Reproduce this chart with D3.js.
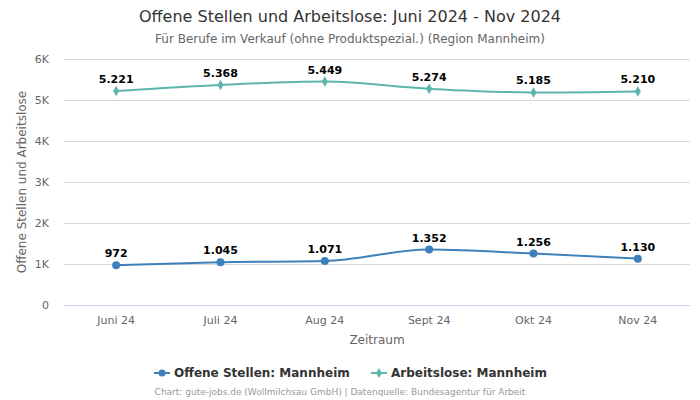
<!DOCTYPE html>
<html>
<head>
<meta charset="utf-8">
<script src="https://cdn.jsdelivr.net/npm/d3@7"></script>
<style>
  body { margin: 0; background: #fff; }
  svg { font-family: "DejaVu Sans", sans-serif; }
</style>
</head>
<body>
<svg id="chart" width="700" height="400"></svg>
<script>
const months = ["Juni 24", "Juli 24", "Aug 24", "Sept 24", "Okt 24", "Nov 24"];
const offeneStellen = [972, 1045, 1071, 1352, 1256, 1130];
const arbeitslose = [5221, 5368, 5449, 5274, 5185, 5210];
const yTicks = [0, 1000, 2000, 3000, 4000, 5000, 6000];
const yTickLabels = ["0", "1K", "2K", "3K", "4K", "5K", "6K"];

const svg = d3.select("#chart");
const plotLeft = 64, plotRight = 690, plotTop = 59, plotBottom = 305;

const x = d3.scaleBand().domain(months).range([plotLeft, plotRight]);
const y = d3.scaleLinear().domain([0, 6000]).range([plotBottom, plotTop]);
const fmt = d3.formatLocale({ decimal: ",", thousands: ".", grouping: [3], currency: ["", "€"] }).format(",d");

// title
svg.append("text").attr("x", 350).attr("y", 22).attr("text-anchor", "middle")
  .style("font-size", "16px").attr("fill", "#333")
  .text("Offene Stellen und Arbeitslose: Juni 2024 - Nov 2024");
svg.append("text").attr("x", 350).attr("y", 43).attr("text-anchor", "middle")
  .style("font-size", "12px").attr("fill", "#666")
  .text("Für Berufe im Verkauf (ohne Produktspezial.) (Region Mannheim)");

// grid
svg.append("g").selectAll("line").data(yTicks).enter().append("line")
  .attr("x1", plotLeft).attr("x2", plotRight)
  .attr("y1", d => y(d) + 0.5).attr("y2", d => y(d) + 0.5)
  .attr("stroke", d => d === 0 ? "#ccd6eb" : "#d8d8d8").attr("stroke-width", 1);

svg.append("g").selectAll("text").data(yTicks).enter().append("text")
  .attr("x", 49).attr("y", d => y(d) + 4).attr("text-anchor", "end")
  .style("font-size", "11px").attr("fill", "#666")
  .text((d, i) => yTickLabels[i]);

svg.append("g").selectAll("text").data(months).enter().append("text")
  .attr("x", d => x(d) + x.bandwidth() / 2).attr("y", 324).attr("text-anchor", "middle")
  .style("font-size", "11px").attr("fill", "#666")
  .text(d => d);

svg.append("text").attr("x", (plotLeft + plotRight) / 2).attr("y", 344).attr("text-anchor", "middle")
  .style("font-size", "12px").attr("fill", "#666").text("Zeitraum");

svg.append("text").attr("transform", "translate(26," + ((plotTop + plotBottom) / 2) + ") rotate(-90)")
  .attr("text-anchor", "middle").style("font-size", "12px").attr("fill", "#666")
  .text("Offene Stellen und Arbeitslose");

const series = [
  { name: "Offene Stellen: Mannheim", values: offeneStellen, color: "#3d80bb", marker: "circle" },
  { name: "Arbeitslose: Mannheim", values: arbeitslose, color: "#5cb5ab", marker: "diamond" }
];

const line = d3.line()
  .x((d, i) => x(months[i]) + x.bandwidth() / 2)
  .y(d => y(d))
  .curve(d3.curveMonotoneX);

series.forEach(s => {
  const g = svg.append("g");
  g.append("path").attr("d", line(s.values)).attr("fill", "none")
    .attr("stroke", s.color).attr("stroke-width", 2);
  const sym = s.marker === "circle" ? d3.symbolCircle : d3.symbolDiamond;
  const size = s.marker === "circle" ? 50 : 32;
  g.selectAll("path.m").data(s.values).enter().append("path").attr("class", "m")
    .attr("d", d3.symbol().type(sym).size(size))
    .attr("transform", (d, i) => `translate(${x(months[i]) + x.bandwidth() / 2},${y(d)})`)
    .attr("fill", s.color);
  g.selectAll("text").data(s.values).enter().append("text")
    .attr("x", (d, i) => x(months[i]) + x.bandwidth() / 2)
    .attr("y", d => y(d) - 8)
    .attr("text-anchor", "middle")
    .style("font-size", "11px").style("font-weight", "bold").attr("fill", "#000")
    .text(d => fmt(d));
});

// legend
const legend = svg.append("g");
const items = [
  { s: series[0], x: 154 },
  { s: series[1], x: 371 }
];
items.forEach(it => {
  legend.append("line").attr("x1", it.x).attr("x2", it.x + 16).attr("y1", 373).attr("y2", 373)
    .attr("stroke", it.s.color).attr("stroke-width", 2);
  legend.append("path")
    .attr("d", d3.symbol().type(it.s.marker === "circle" ? d3.symbolCircle : d3.symbolDiamond).size(it.s.marker === "circle" ? 40 : 28))
    .attr("transform", `translate(${it.x + 8},373)`).attr("fill", it.s.color);
  legend.append("text").attr("x", it.x + 20).attr("y", 377)
    .style("font-size", "12px").style("font-weight", "bold").attr("fill", "#333")
    .text(it.s.name);
});

svg.append("text").attr("x", 340).attr("y", 395).attr("text-anchor", "middle")
  .style("font-size", "9px").attr("fill", "#999")
  .text("Chart: gute-jobs.de (Wollmilchsau GmbH) | Datenquelle: Bundesagentur für Arbeit");
</script>
</body>
</html>
